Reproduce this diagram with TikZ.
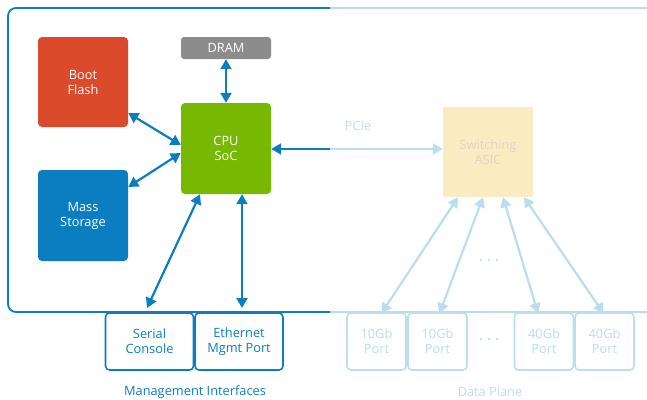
\documentclass[tikz,border=0pt]{standalone}
\usepackage{fontspec}
\setmainfont{Open Sans}
\usetikzlibrary{arrows.meta}
\definecolor{dblue}{HTML}{0B7DC1}
\definecolor{lblue}{HTML}{B9DDF1}
\definecolor{bootred}{HTML}{DC4A2C}
\definecolor{cpugreen}{HTML}{76B900}
\definecolor{dramgray}{HTML}{8C8C8C}
\definecolor{asicyel}{HTML}{FBEBC1}
\definecolor{asictext}{HTML}{DDD6C4}
\tikzset{
  x=1pt,y=-1pt,
  lbl/.style={font=\fontsize{12.8}{15}\selectfont,align=center},
  blk/.style={lbl,rounded corners=4pt,text=white,inner sep=0pt},
  port/.style={lbl,draw=dblue,line width=1.6pt,fill=white,rounded corners=4pt,text=dblue,minimum width=88pt,minimum height=57pt,inner sep=0pt},
  dport/.style={lbl,draw=lblue,line width=1.6pt,fill=white,rounded corners=4pt,text=lblue,minimum width=59pt,minimum height=57pt,inner sep=0pt},
  tip/.tip={Triangle[length=10pt,width=11pt]},
  darr/.style={draw=dblue,line width=2.2pt,tip-tip},
  larr/.style={draw=lblue,line width=2.2pt,tip-tip},
}
\begin{document}
\begin{tikzpicture}
\useasboundingbox (0,0) rectangle (647,399);
% frame
\draw[lblue,line width=1.8pt] (330,8) -- (647,8);
\draw[lblue,line width=1.8pt] (330,312) -- (647,312);
\draw[dblue,line width=1.8pt,rounded corners=8pt] (330,8) -- (8,8) -- (8,312) -- (330,312);
% blocks
\node[blk,fill=bootred,minimum width=90pt,minimum height=90pt] (boot) at (83,82) {Boot\\Flash};
\node[blk,fill=dblue,minimum width=90pt,minimum height=91pt] (mass) at (83,215.5) {Mass\\Storage};
\node[blk,fill=dramgray,minimum width=90pt,minimum height=22pt,rounded corners=3pt] (dram) at (226,48) {DRAM};
\node[blk,fill=cpugreen,minimum width=90pt,minimum height=91pt] (cpu) at (226,148.5) {CPU\\SoC};
\node[blk,fill=asicyel,text=asictext,minimum width=90pt,minimum height=90pt,rounded corners=0pt] (asic) at (488,152) {Switching\\ASIC};
% management ports
\node[port] (serial) at (149.5,341.5) {Serial\\Console};
\node[port] (eth) at (239,341.5) {Ethernet\\Mgmt Port};
\node[lbl,text=dblue] (mgmt) at (195,392) {Management Interfaces};
% data ports
\node[dport] (p1) at (376.5,341.5) {10Gb\\Port};
\node[dport] (p2) at (437.5,341.5) {10Gb\\Port};
\node[lbl,text=lblue] (pdots) at (489,340) {\textbf{. . .}};
\node[dport] (p3) at (544,341.5) {40Gb\\Port};
\node[dport] (p4) at (604.5,341.5) {40Gb\\Port};
\node[lbl,text=lblue] (adots) at (489,261) {\textbf{. . .}};
\node[lbl,text=lblue] (dp) at (490,392) {Data Plane};
\node[lbl,text=lblue] (pcie) at (358,126) {PCIe};
% connectors
\draw[darr] (dram.south) -- (cpu.north);
\draw[darr] (boot.east |- 0,113) -- (cpu.west |- 0,145);
\draw[darr] (mass.east |- 0,187) -- (cpu.west |- 0,153);
\draw[darr] ([xshift=-26pt]cpu.south) -- (147,308);
\draw[darr] ([xshift=16pt]cpu.south) -- (242,308);
\coordinate (split) at (330,149);
\draw[draw=lblue,line width=2.2pt,-tip] (split) -- (asic.west |- split);
\draw[draw=dblue,line width=2.2pt,tip-] (cpu.east |- split) -- (split);
\draw[larr] ([xshift=-30pt]asic.south) -- ([xshift=5pt,yshift=-1pt]p1.north);
\draw[larr] ([xshift=-5pt]asic.south) -- ([xshift=2pt,yshift=-1pt]p2.north);
\draw[larr] ([xshift=15pt]asic.south) -- ([xshift=-6pt,yshift=-1pt]p3.north);
\draw[larr] ([xshift=36pt]asic.south) -- ([xshift=-1pt,yshift=-1pt]p4.north);
\end{tikzpicture}
\end{document}
